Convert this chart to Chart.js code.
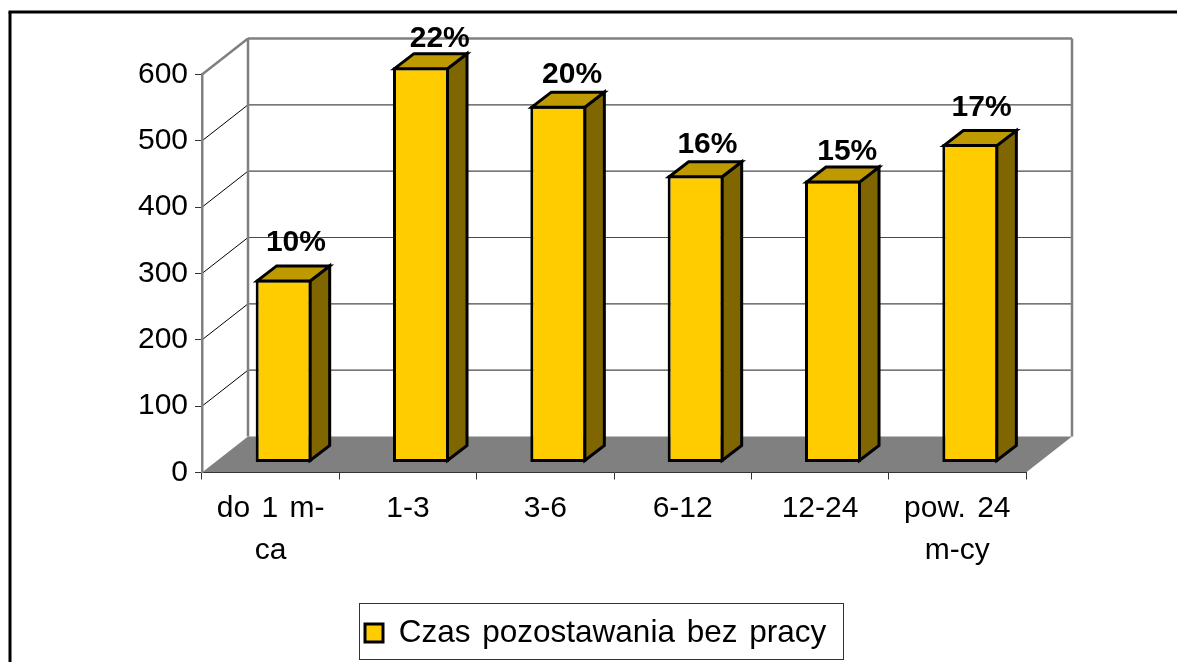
<!DOCTYPE html>
<html>
<head>
<meta charset="utf-8">
<title>Czas pozostawania bez pracy</title>
<script src="https://cdn.jsdelivr.net/npm/chart.js@4"></script>
<style>
    html, body { margin: 0; padding: 0; background: #fff; }
    canvas { display: block; }
</style>
</head>
<body>
<canvas id="chart" width="1177" height="662"></canvas>
<script>
const categories = [['do 1 m-', 'ca'], '1-3', '3-6', '6-12', '12-24', ['pow. 24', 'm-cy']];
const seriesValues = [276, 596, 538, 433, 425, 480];
const percentLabels = ['10%', '22%', '20%', '16%', '15%', '17%'];
const seriesName = 'Czas pozostawania bez pracy';

// 3D look: wall depth of the plot, depth of one bar, how far bars sit in from the front edge
const wallDepth = { x: 46, y: 36 };
const barDepth = { x: 19.5, y: 15 };
const barShift = { x: 13, y: 10 };

// the original places each percent label a little differently
const labelNudgeX = [2.5, 9, 4, 2, 4.5, 1.5];
const labelGap = [13, 5, 8, 7, 6, 13];

const legendFrame = { left: 359, top: 603, right: 843, bottom: 659 };

const fontName = '"Liberation Sans", Arial, sans-serif';

function polygon(ctx, points, fill, stroke, width) {
    ctx.beginPath();
    points.forEach(function (p, i) {
        if (i === 0) ctx.moveTo(p[0], p[1]);
        else ctx.lineTo(p[0], p[1]);
    });
    ctx.closePath();
    ctx.fillStyle = fill;
    ctx.fill();
    if (stroke) {
        ctx.strokeStyle = stroke;
        ctx.lineWidth = width;
        ctx.lineJoin = 'miter';
        ctx.stroke();
    }
}

function line(ctx, x1, y1, x2, y2, color, width) {
    ctx.beginPath();
    ctx.moveTo(x1, y1);
    ctx.lineTo(x2, y2);
    ctx.strokeStyle = color;
    ctx.lineWidth = width;
    ctx.stroke();
}

const chart3d = {
    id: 'chart3d',
    beforeUpdate(chart) {
        // wider gaps between words, same as the original text
        chart.ctx.wordSpacing = '3px';
    },
    afterLayout(chart) {
        const legend = chart.legend;
        const mid = (legendFrame.top + legendFrame.bottom) / 2;
        legend.left = 365 - legend.options.labels.padding;
        legend.top = mid - legend.height / 2;
        legend.bottom = legend.top + legend.height;
    },
    beforeDraw(chart) {
        const ctx = chart.ctx;
        const area = chart.chartArea;
        const yScale = chart.scales.y;

        ctx.save();
        ctx.fillStyle = '#fff';
        ctx.fillRect(0, 0, chart.width, chart.height);

        // outer frame, only top and left are in view
        line(ctx, 10, chart.height, 10, 12, '#000', 3);
        line(ctx, 8.5, 12, chart.width, 12, '#000', 3);

        const backLeft = area.left + wallDepth.x;
        const backRight = area.right + wallDepth.x;

        // gridlines on side wall and back wall
        yScale.ticks.forEach(function (tick, i) {
            const py = yScale.getPixelForTick(i);
            const isTop = tick.value === yScale.max;
            if (tick.value === 0) return;
            line(ctx, area.left, py, backLeft, py - wallDepth.y, isTop ? '#808080' : '#000', isTop ? 2.5 : 1);
            line(ctx, backLeft, py - wallDepth.y, backRight, py - wallDepth.y, isTop ? '#808080' : '#4a4a4a', isTop ? 2.5 : 1.2);
        });

        const y0 = yScale.getPixelForValue(0);
        const yTop = yScale.getPixelForValue(yScale.max) - wallDepth.y;
        line(ctx, backLeft, yTop, backLeft, y0 - wallDepth.y, '#808080', 2.5);
        line(ctx, backRight, yTop, backRight, y0 - wallDepth.y, '#808080', 2.5);

        // floor
        polygon(ctx, [
            [area.left, y0],
            [area.right, y0],
            [backRight, y0 - wallDepth.y],
            [backLeft, y0 - wallDepth.y]
        ], '#808080');

        // legend frame
        ctx.strokeStyle = '#333';
        ctx.lineWidth = 1;
        ctx.strokeRect(legendFrame.left + 0.5, legendFrame.top + 0.5,
            legendFrame.right - legendFrame.left, legendFrame.bottom - legendFrame.top);
        ctx.restore();
    },
    beforeDatasetsDraw(chart) {
        chart.ctx.save();
        chart.ctx.translate(barShift.x, -barShift.y);
    },
    afterDatasetsDraw(chart) {
        const ctx = chart.ctx;
        ctx.restore();
        ctx.save();
        const bars = chart.getDatasetMeta(0).data;
        bars.forEach(function (bar, i) {
            const half = bar.width / 2;
            const left = bar.x - half + barShift.x + 1.5;
            const right = bar.x + half + barShift.x - 1.5;
            const top = bar.y - barShift.y + 1.5;
            const bottom = bar.base - barShift.y - 1.5;

            polygon(ctx, [
                [right, top],
                [right + barDepth.x, top - barDepth.y],
                [right + barDepth.x, bottom - barDepth.y],
                [right, bottom]
            ], '#806600', '#000', 3);
            polygon(ctx, [
                [left, top],
                [left + barDepth.x, top - barDepth.y],
                [right + barDepth.x, top - barDepth.y],
                [right, top]
            ], '#bf9900', '#000', 3);

            ctx.fillStyle = '#000';
            ctx.font = 'bold 30px ' + fontName;
            ctx.textAlign = 'center';
            ctx.textBaseline = 'alphabetic';
            ctx.fillText(percentLabels[i], (left + right + barDepth.x) / 2 + labelNudgeX[i], top - barDepth.y - 1.5 - labelGap[i]);
        });
        ctx.restore();
    }
};

new Chart(document.getElementById('chart'), {
    type: 'bar',
    data: {
        labels: categories,
        datasets: [{
            label: seriesName,
            data: seriesValues,
            backgroundColor: '#ffcc00',
            borderColor: '#000',
            borderWidth: 3,
            borderSkipped: false,
            categoryPercentage: 1,
            barPercentage: 0.408,
            clip: false
        }]
    },
    options: {
        responsive: false,
        animation: false,
        layout: {
            padding: { left: 20, right: 151, top: 74.5, bottom: 3 }
        },
        scales: {
            x: {
                afterFit(scale) { scale.height = 131; },
                grid: { drawOnChartArea: false, tickLength: 7, tickColor: '#333', offset: true },
                border: { color: '#333', width: 1 },
                ticks: {
                    color: '#000',
                    padding: 9,
                    maxRotation: 0,
                    autoSkip: false,
                    font: { family: fontName, size: 30, lineHeight: 1.38 }
                }
            },
            y: {
                min: 0,
                max: 600,
                afterFit(scale) { scale.width = 182; },
                grid: { drawOnChartArea: false, tickLength: 7, tickColor: '#333' },
                border: { color: '#808080', width: 2.5 },
                ticks: {
                    stepSize: 100,
                    color: '#000',
                    padding: 7,
                    font: { family: fontName, size: 30 }
                }
            }
        },
        plugins: {
            tooltip: { enabled: false },
            legend: {
                display: true,
                position: 'bottom',
                align: 'start',
                labels: {
                    color: '#000',
                    boxWidth: 18,
                    boxHeight: 18,
                    padding: 14,
                    font: { family: fontName, size: 31.5 }
                }
            }
        }
    },
    plugins: [chart3d]
});
</script>
</body>
</html>
